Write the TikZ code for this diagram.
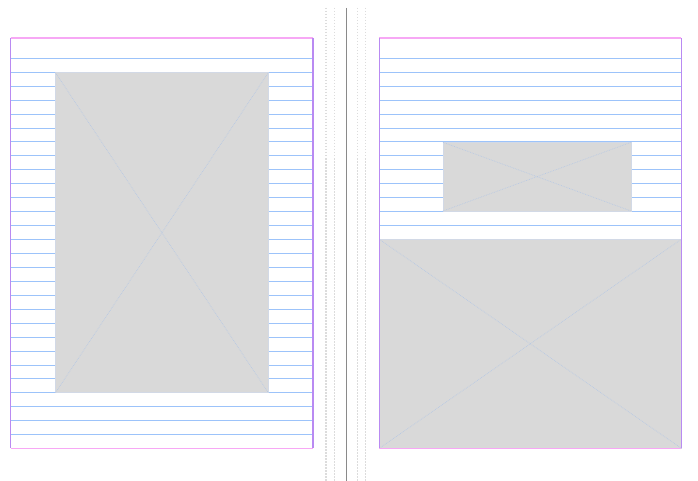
\documentclass[tikz,border=0pt]{standalone}
\usetikzlibrary{calc}
\definecolor{rule}{HTML}{9CC3FA}
\definecolor{framepink}{HTML}{F7A8F5}
\definecolor{framevio}{HTML}{B98AF2}
\definecolor{imgfill}{HTML}{D9D9D9}
\definecolor{imgedge}{HTML}{D2D9E6}
\definecolor{imgcross}{HTML}{B7C9E4}
\definecolor{guide}{HTML}{DCDCDC}
\definecolor{gutter}{HTML}{8A8A8A}
\tikzset{
  baseline rule/.style={draw=rule, line width=0.9pt},
  frame h/.style={draw=framepink, line width=1.3pt},
  frame v/.style={draw=framevio, line width=1.3pt},
  placeholder/.style={draw=imgedge, line width=0.5pt},
  cross line/.style={draw=imgcross, line width=0.7pt, densely dotted},
  guide line/.style={draw=guide, line width=1.4pt, dash pattern=on 1.5pt off 1.5pt},
  gutter line/.style={draw=gutter, line width=0.9pt},
}
\newcommand{\placeimg}[4]{%
  \fill[imgfill] (#1,#2) rectangle (#3,#4);
  \draw[placeholder] (#1,#2) rectangle (#3,#4);
  \draw[cross line] (#1,#2) -- (#3,#4);
  \draw[cross line] (#1,#4) -- (#3,#2);
}
\begin{document}
\begin{tikzpicture}[x=1pt,y=-1pt]
\useasboundingbox (0,0) rectangle (698,481);
\fill[white] (0,0) rectangle (698,481);
% guides
\foreach \gx in {326,334.3,357.3,365.7}{
  \draw[guide line] (\gx,8) -- (\gx,481);
}
\draw[gutter line] (346.3,8) -- (346.3,481);
% left page rules
\foreach \k in {0,...,27}{
  \draw[baseline rule] (10.7,58.3+13.94*\k) -- (313,58.3+13.94*\k);
}
% right page rules
\foreach \k in {0,...,12}{
  \draw[baseline rule] (379.3,58.3+13.94*\k) -- (681.3,58.3+13.94*\k);
}
% images
\placeimg{55.5}{72.7}{268.3}{392.7}
\placeimg{443}{142.3}{631}{211}
\placeimg{379.3}{239.3}{681.3}{448.3}
% page frames
\draw[frame h] (10.7,38) -- (313,38);
\draw[frame h] (10.7,448.3) -- (313,448.3);
\draw[frame v] (10.7,38) -- (10.7,448.3);
\draw[frame v] (313,38) -- (313,448.3);
\draw[frame h] (379.3,38) -- (681.3,38);
\draw[frame h] (379.3,448.3) -- (681.3,448.3);
\draw[frame v] (379.3,38) -- (379.3,448.3);
\draw[frame v] (681.3,38) -- (681.3,448.3);
\end{tikzpicture}
\end{document}
